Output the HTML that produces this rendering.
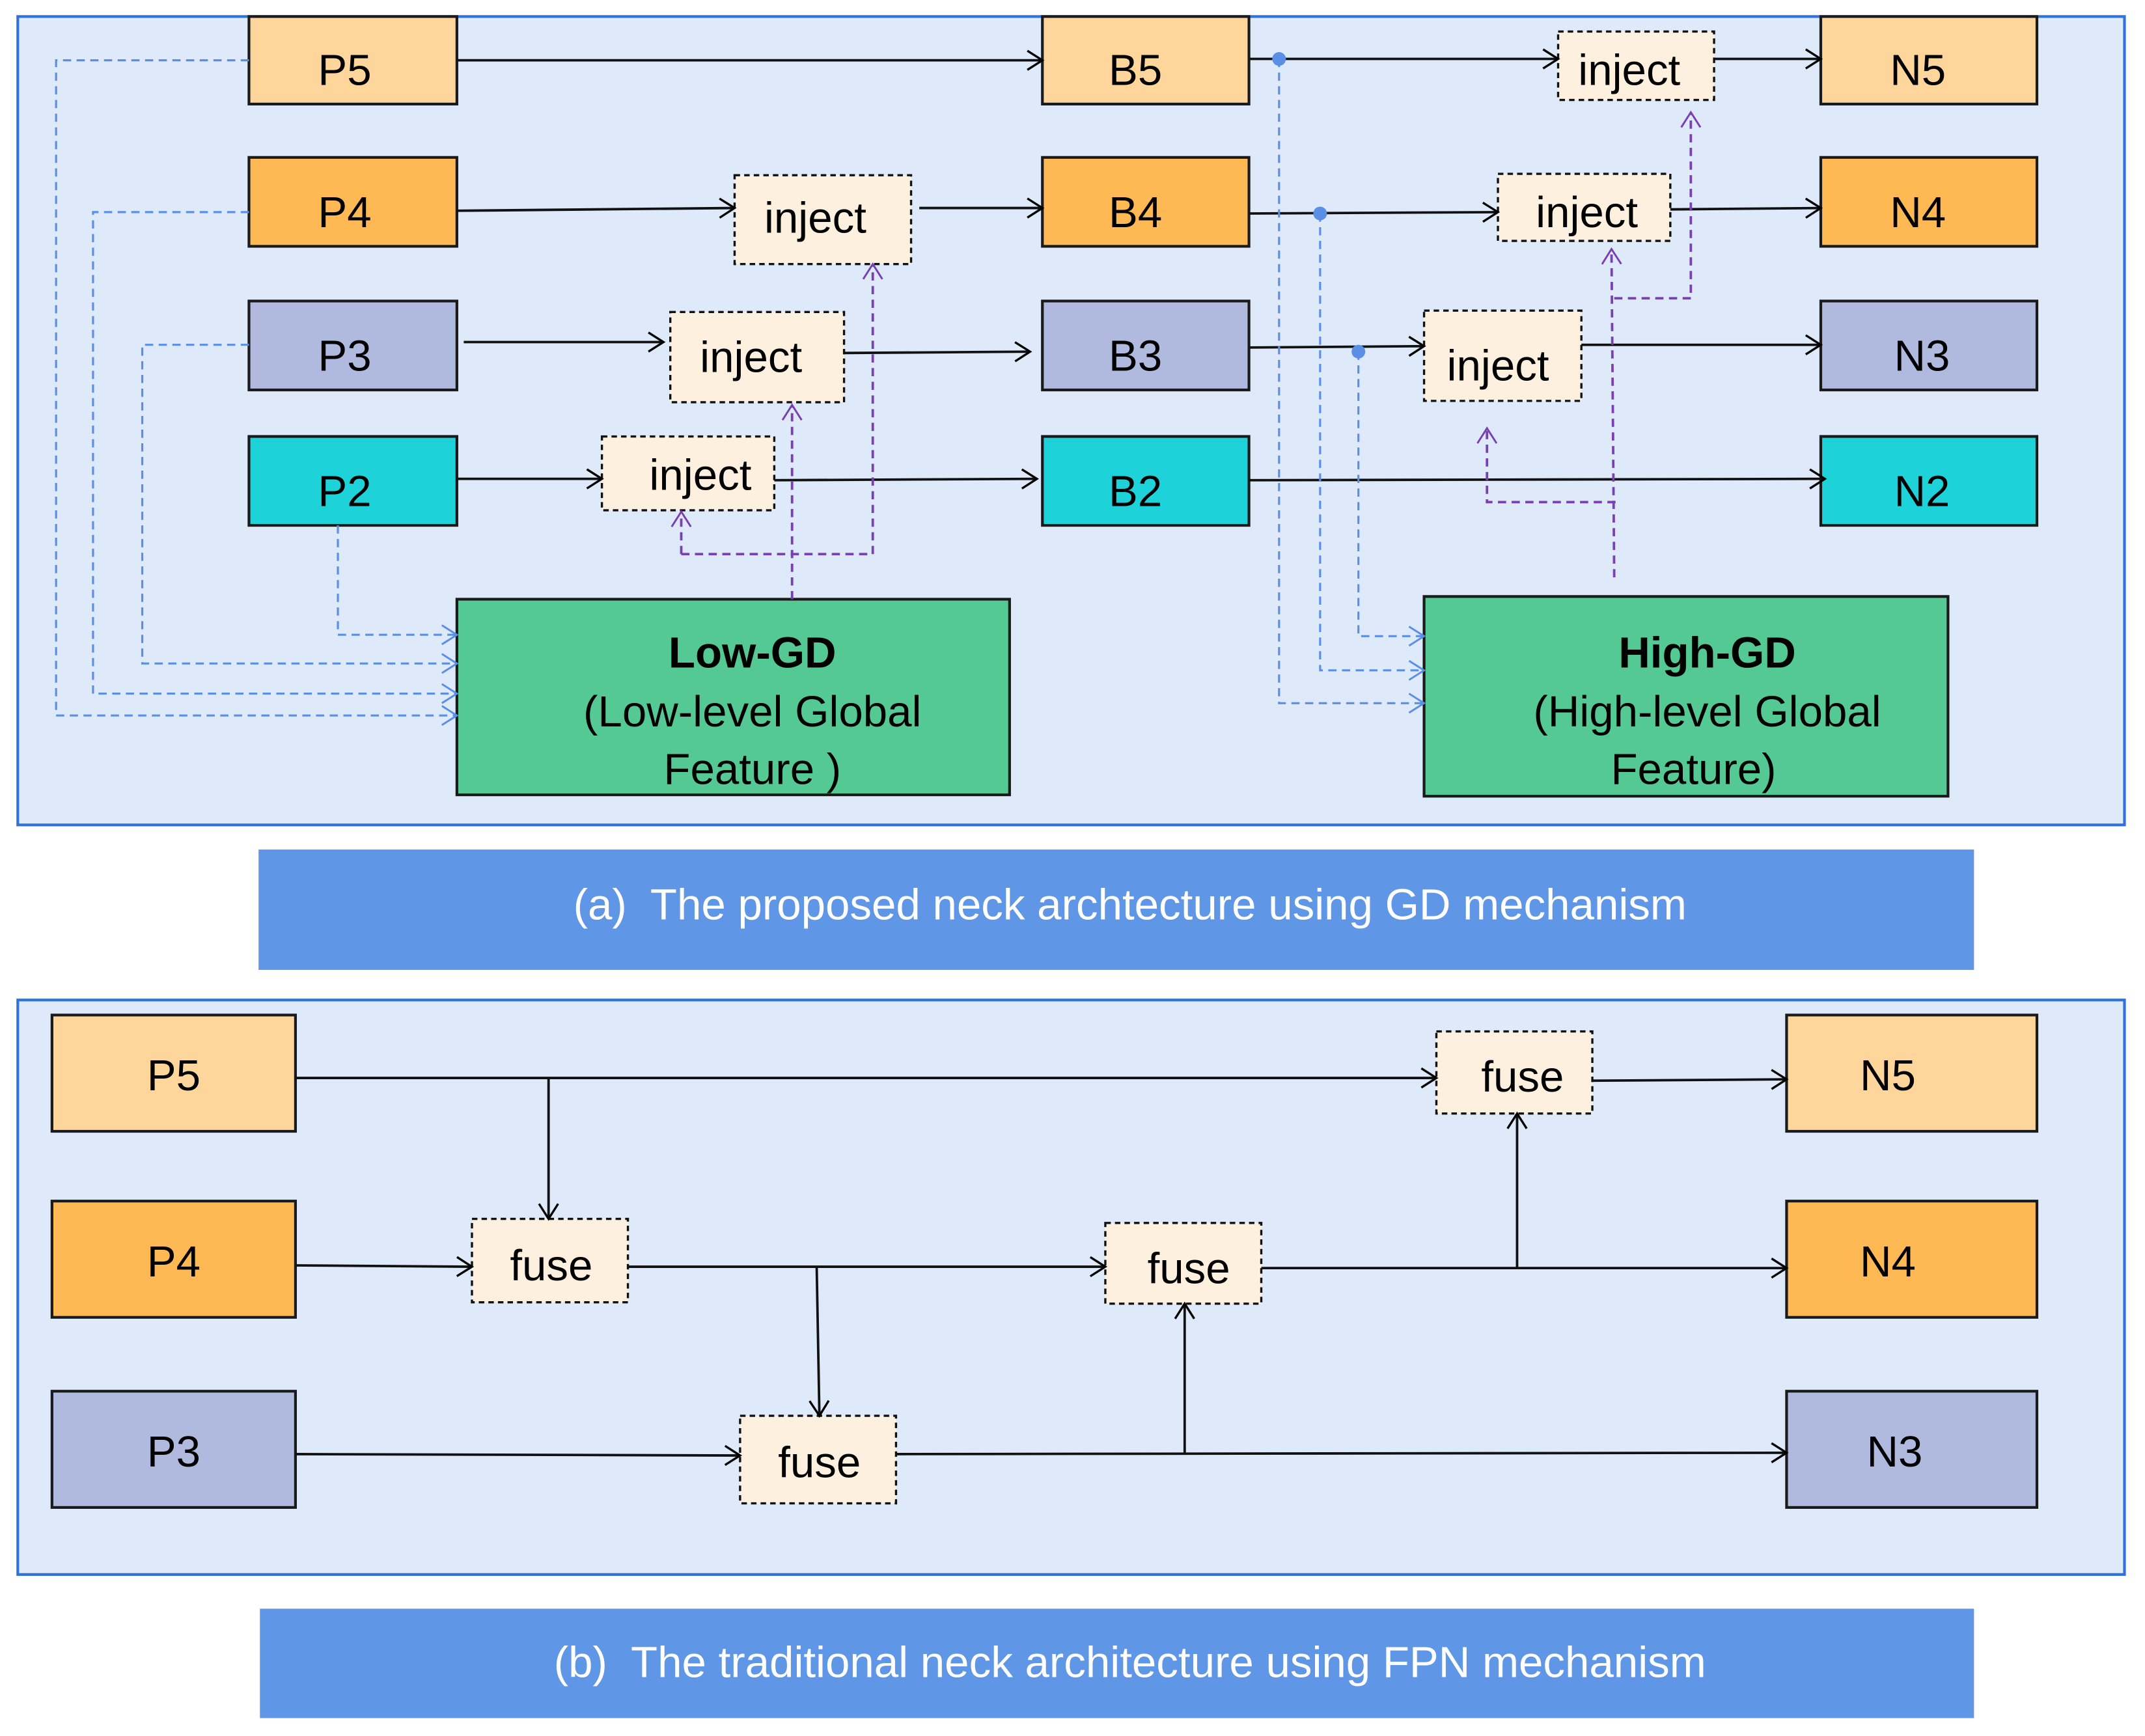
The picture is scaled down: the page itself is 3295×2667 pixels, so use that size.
<!DOCTYPE html>
<html><head><meta charset="utf-8"><style>html,body{margin:0;padding:0;background:#fff}svg{display:block}text{font-family:"Liberation Sans",Arial,sans-serif}</style></head><body>
<svg width="3295" height="2667" viewBox="0 0 1568 1269" xmlns="http://www.w3.org/2000/svg" style="font-family:'Liberation Sans',Arial,sans-serif">
<defs>
<marker id="ak" markerWidth="14" markerHeight="16" refX="12" refY="8" orient="auto" markerUnits="userSpaceOnUse"><path d="M1,1 L12,8 L1,15" fill="none" stroke="#000" stroke-width="1.6"/></marker>
<marker id="ab" markerWidth="14" markerHeight="16" refX="12" refY="8" orient="auto" markerUnits="userSpaceOnUse"><path d="M1,1 L12,8 L1,15" fill="none" stroke="#5b8fe6" stroke-width="1.4"/></marker>
<marker id="ap" markerWidth="14" markerHeight="16" refX="12" refY="8" orient="auto" markerUnits="userSpaceOnUse"><path d="M1,1 L12,8 L1,15" fill="none" stroke="#7a3fb0" stroke-width="1.4"/></marker>
</defs>
<rect x="0" y="0" width="1568" height="1269" fill="#fff"/>
<rect x="13" y="12" width="1540" height="591" fill="#dee9f9" stroke="#2f73d9" stroke-width="2"/>
<rect x="13" y="731" width="1540" height="420" fill="#dee9f9" stroke="#2f73d9" stroke-width="2"/>

<g stroke="#1a1a1a" stroke-width="2" >
<rect x="182" y="12" width="152" height="64" fill="#fed69b"/>
<rect x="182" y="115" width="152" height="65" fill="#feb955"/>
<rect x="182" y="220" width="152" height="65" fill="#b0badf"/>
<rect x="182" y="319" width="152" height="65" fill="#1dd2d9"/>
<rect x="762" y="12" width="151" height="64" fill="#fed69b"/>
<rect x="762" y="115" width="151" height="65" fill="#feb955"/>
<rect x="762" y="220" width="151" height="65" fill="#b0badf"/>
<rect x="762" y="319" width="151" height="65" fill="#1dd2d9"/>
<rect x="1331" y="12" width="158" height="64" fill="#fed69b"/>
<rect x="1331" y="115" width="158" height="65" fill="#feb955"/>
<rect x="1331" y="220" width="158" height="65" fill="#b0badf"/>
<rect x="1331" y="319" width="158" height="65" fill="#1dd2d9"/>
<rect x="334" y="438" width="404" height="143" fill="#55c994"/>
<rect x="1041" y="436" width="383" height="146" fill="#55c994"/>
<rect x="38" y="742" width="178" height="85" fill="#fed69b"/>
<rect x="38" y="878" width="178" height="85" fill="#feb955"/>
<rect x="38" y="1017" width="178" height="85" fill="#b0badf"/>
<rect x="1306" y="742" width="183" height="85" fill="#fed69b"/>
<rect x="1306" y="878" width="183" height="85" fill="#feb955"/>
<rect x="1306" y="1017" width="183" height="85" fill="#b0badf"/>
</g>
<g stroke="#111" stroke-width="1.6" stroke-dasharray="4,3" fill="#fef0de">
<rect x="537" y="128" width="129" height="65"/>
<rect x="490" y="228" width="127" height="66"/>
<rect x="440" y="319" width="126" height="54"/>
<rect x="1139" y="23" width="114" height="50"/>
<rect x="1095" y="127" width="126" height="49"/>
<rect x="1041" y="227" width="115" height="66"/>
<rect x="1050" y="754" width="114" height="60"/>
<rect x="345" y="891" width="114" height="61"/>
<rect x="808" y="894" width="114" height="59"/>
<rect x="541" y="1035" width="114" height="64"/>
</g>

<g stroke="#111" stroke-width="1.8" fill="none" marker-end="url(#ak)">
<path d="M334,44 L762,44"/><path d="M913,43 L1139,43"/><path d="M1253,43 L1331,43"/>
<path d="M334,154 L537,152"/><path d="M672,152 L762,152"/><path d="M913,156 L1095,155"/><path d="M1221,153 L1331,152"/>
<path d="M339,250 L485,250"/><path d="M617,258 L753,257"/><path d="M913,254 L1041,253"/><path d="M1156,252 L1331,252"/>
<path d="M334,350 L440,350"/><path d="M566,351 L758,350"/><path d="M913,351 L1334,350"/>
<path d="M216,788 L1050,788"/><path d="M401,788 L401,891"/><path d="M1164,790 L1306,789"/>
<path d="M216,925 L345,926"/><path d="M459,926 L808,926"/><path d="M597,926 L599,1035"/><path d="M922,927 L1306,927"/><path d="M1109,927 L1109,814"/>
<path d="M216,1063 L541,1064"/><path d="M655,1063 L1306,1062"/><path d="M866,1063 L866,953"/>
</g>

<g stroke="#5b8fe6" stroke-width="1.5" fill="none" stroke-dasharray="6,4" marker-end="url(#ab)">
<path d="M182,44 L41,44 L41,523 L334,523"/>
<path d="M182,155 L68,155 L68,507 L334,507"/>
<path d="M182,252 L104,252 L104,485 L334,485"/>
<path d="M247,384 L247,464 L334,464"/>
<path d="M935,43 L935,514 L1041,514"/>
<path d="M965,156 L965,490 L1041,490"/>
<path d="M993,257 L993,465 L1041,465"/>
</g>
<g fill="#5b8fe6"><circle cx="935" cy="43" r="5"/><circle cx="965" cy="156" r="5"/><circle cx="993" cy="257" r="5"/></g>

<g stroke="#7a3fb0" stroke-width="1.8" fill="none" stroke-dasharray="6,4">
<path d="M579,438 L579,296" marker-end="url(#ap)"/>
<path d="M498,405 L638,405 L638,193" marker-end="url(#ap)"/>
<path d="M498,405 L498,374" marker-end="url(#ap)"/>
<path d="M1180,422 L1178,182" marker-end="url(#ap)"/>
<path d="M1180,218 L1236,218 L1236,82" marker-end="url(#ap)"/>
<path d="M1181,367 L1087,367 L1087,313" marker-end="url(#ap)"/>
</g>

<g font-size="32" text-anchor="middle" fill="#000">
<text x="252" y="62">P5</text><text x="252" y="166">P4</text><text x="252" y="271">P3</text><text x="252" y="370">P2</text>
<text x="830" y="62">B5</text><text x="830" y="166">B4</text><text x="830" y="271">B3</text><text x="830" y="370">B2</text>
<text x="1402" y="62">N5</text><text x="1402" y="166">N4</text><text x="1405" y="271">N3</text><text x="1405" y="370">N2</text>
<text x="596" y="170">inject</text><text x="549" y="272">inject</text><text x="512" y="358">inject</text>
<text x="1191" y="62">inject</text><text x="1160" y="166">inject</text><text x="1095" y="278">inject</text>
<text x="127" y="797">P5</text><text x="127" y="933">P4</text><text x="127" y="1072">P3</text>
<text x="1380" y="797">N5</text><text x="1380" y="933">N4</text><text x="1385" y="1072">N3</text>
<text x="1113" y="798">fuse</text><text x="403" y="936">fuse</text><text x="869" y="938">fuse</text><text x="599" y="1080">fuse</text>
<text x="550" y="488" font-weight="bold">Low-GD</text>
<text x="550" y="531">(Low-level Global</text>
<text x="550" y="573">Feature )</text>
<text x="1248" y="488" font-weight="bold">High-GD</text>
<text x="1248" y="531">(High-level Global</text>
<text x="1238" y="573">Feature)</text>
</g>

<rect x="189" y="621" width="1254" height="88" fill="#6096e6"/>
<text x="826" y="672" font-size="32" fill="#fff" text-anchor="middle" xml:space="preserve">(a)  The proposed neck archtecture using GD mechanism</text>
<rect x="190" y="1176" width="1253" height="80" fill="#6096e6"/>
<text x="826" y="1226" font-size="32" fill="#fff" text-anchor="middle" xml:space="preserve">(b)  The traditional neck architecture using FPN mechanism</text>
</svg>
</body></html>
